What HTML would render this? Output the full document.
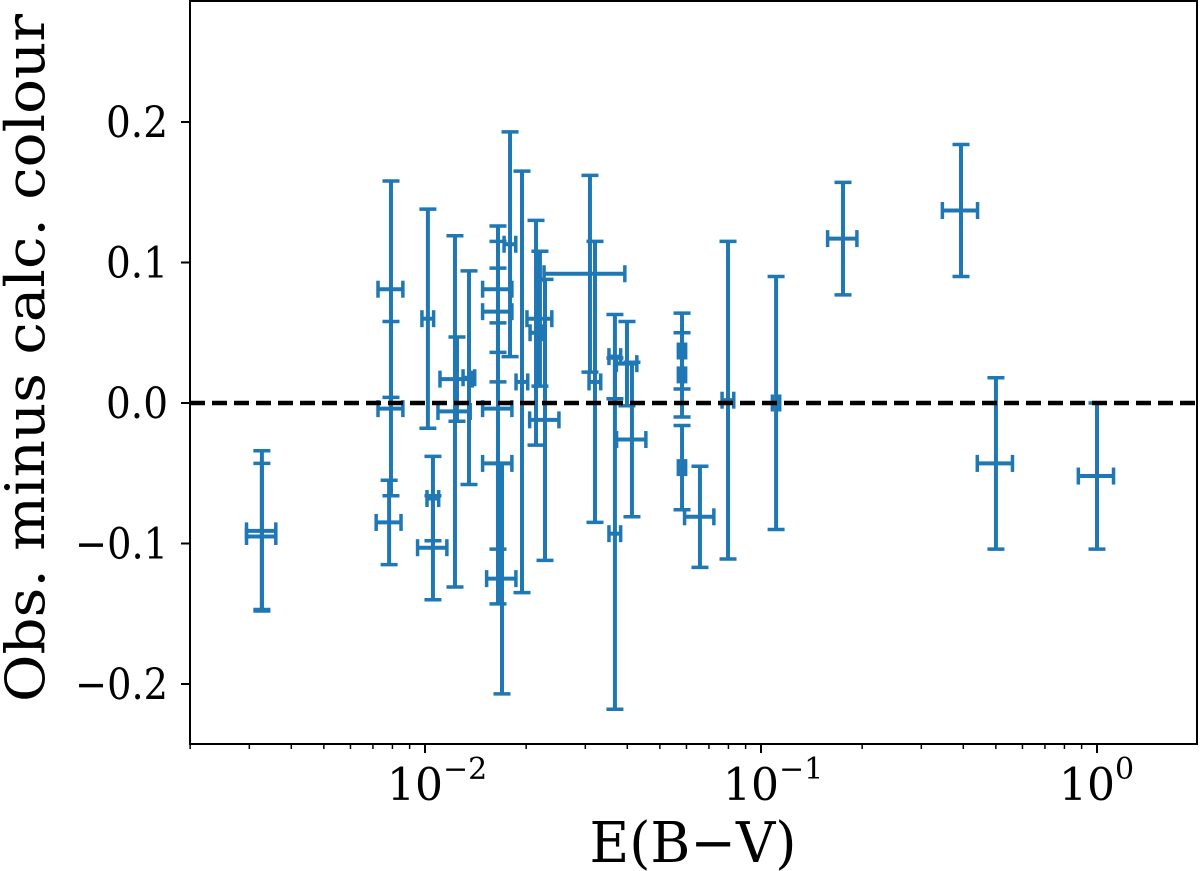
<!DOCTYPE html>
<html><head><meta charset="utf-8"><style>
body{margin:0;background:#fff}
svg{display:block;font-family:"DejaVu Serif","Liberation Serif",serif}
</style></head><body>
<svg id="chart" width="1200" height="871">
<g id="marks"></g>
<g id="axes"></g>
</svg>
<script>
const xVals=[0.00327,0.00327,0.00792,0.00792,0.00782,0.0102,0.01056,0.01056,0.01245,0.01228,0.01352,0.01649,0.01649,0.01649,0.01649,0.01695,0.01791,0.01944,0.02198,0.02140,0.02276,0.03097,0.03206,0.03675,0.03675,0.03991,0.04130,0.05821,0.05821,0.05821,0.06581,0.07977,0.1109,0.1754,0.3938,0.5003,1.0];
const yVals=[-0.091,-0.095,0.081,-0.004,-0.085,0.060,-0.068,-0.103,0.017,-0.006,0.018,0.081,0.065,-0.004,-0.043,-0.125,0.113,0.015,0.060,0.050,-0.012,0.092,0.015,0.033,-0.093,0.028,-0.026,0.037,0.020,-0.046,-0.081,0.002,0.000,0.117,0.137,-0.043,-0.052];
const yErr=[0.057,0.052,0.077,0.062,0.030,0.078,0.030,0.037,0.030,0.125,0.076,0.045,0.050,0.100,0.100,0.082,0.080,0.150,0.048,0.080,0.100,0.070,0.100,0.030,0.125,0.030,0.055,0.027,0.030,0.030,0.036,0.113,0.090,0.040,0.047,0.061,0.052];
const xRel=[0.10,0.10,0.085,0.085,0.085,0.04,0.04,0.10,0.11,0.11,0.04,0.10,0.10,0.10,0.10,0.10,0.04,0.04,0.085,0.04,0.10,0.27,0.04,0.04,0.04,0.07,0.10,0.025,0.025,0.025,0.10,0.04,0.025,0.10,0.12,0.12,0.12];
const yTicks=[-0.2,-0.1,0.0,0.1,0.2];
const yTickLabels=["\u22120.2","\u22120.1","0.0","0.1","0.2"];
const xTickExp=[-2,-1,0];

const L=190,R=1197,T=1,B=744;
const X=v=>425+(Math.log10(v)+2)*336;
const Y=v=>403-v*1405;
const NS="http://www.w3.org/2000/svg";
function mk(p,t,a){const e=document.createElementNS(NS,t);for(const k in a)e.setAttribute(k,a[k]);p.appendChild(e);return e;}
const marks=document.getElementById('marks'),axes=document.getElementById('axes');
const C="#1f77b4";
for(let i=0;i<xVals.length;i++){
  const g=mk(marks,'g',{stroke:C,'stroke-width':4,fill:'none'});
  
  
  const x=X(xVals[i]),y=Y(yVals[i]);
  const y1=Y(yVals[i]+yErr[i]),y2=Y(yVals[i]-yErr[i]);
  const x1=X(xVals[i]*(1-xRel[i])),x2=X(xVals[i]*(1+xRel[i]));
  mk(g,'line',{x1:x,x2:x,y1:y1,y2:y2});
  mk(g,'line',{x1:x-8.5,x2:x+8.5,y1:y1,y2:y1,'stroke-width':3.5});
  mk(g,'line',{x1:x-8.5,x2:x+8.5,y1:y2,y2:y2,'stroke-width':3.5});
  mk(g,'line',{x1:x1,x2:x2,y1:y,y2:y});
  mk(g,'line',{x1:x1,x2:x1,y1:y-8.5,y2:y+8.5,'stroke-width':3.5});
  mk(g,'line',{x1:x2,x2:x2,y1:y-8.5,y2:y+8.5,'stroke-width':3.5});
}
const zl=mk(axes,'line',{x1:L,x2:R,y1:Y(0),y2:Y(0),stroke:'#000','stroke-width':4.5,'stroke-dasharray':'15,7'});


const fr=mk(axes,'rect',{x:L,y:T,width:R-L,height:B-T,fill:'none',stroke:'#000','stroke-width':2});


yTicks.forEach((v,i)=>{
  mk(axes,'line',{x1:L-9,x2:L,y1:Y(v),y2:Y(v),stroke:'#000','stroke-width':2});
  const lab=yTickLabels[i];
  const t=mk(axes,'text',{x:L-22,y:Y(v)+15,'text-anchor':'end','font-size':43,textLength:lab.length>3?93:62,lengthAdjust:'spacingAndGlyphs'});
  t.textContent=lab;
  
  
});
for(let e=-3;e<=0;e++)for(let m=1;m<10;m++){
  const v=m*Math.pow(10,e),x=X(v);
  if(x<L-1||x>R+1)continue;
  mk(axes,'line',{x1:x,x2:x,y1:B,y2:B+(m==1?9:5),stroke:'#000','stroke-width':m==1?2:1.5});
}
xTickExp.forEach(e=>{
  const x=X(Math.pow(10,e));
  const t=mk(axes,'text',{x:x-10,y:800,'text-anchor':'middle','font-size':45,textLength:56,lengthAdjust:'spacingAndGlyphs'});
  t.textContent='10';
  
  
  const s=mk(axes,'text',{x:x+18,y:779,'text-anchor':'start','font-size':30});
  s.textContent=e<0?'\u2212'+(-e):''+e;
  
  
});
const xl=mk(axes,'text',{x:693,y:862,'text-anchor':'middle','font-size':56,textLength:207,lengthAdjust:'spacingAndGlyphs'});
xl.textContent='E(B\u2212V)';


const yl=mk(axes,'text',{x:0,y:0,'text-anchor':'middle','font-size':54,textLength:688,lengthAdjust:'spacingAndGlyphs',transform:'translate(44,358) rotate(-90)'});
yl.textContent='Obs. minus calc. colour';


</script>
</body></html>
